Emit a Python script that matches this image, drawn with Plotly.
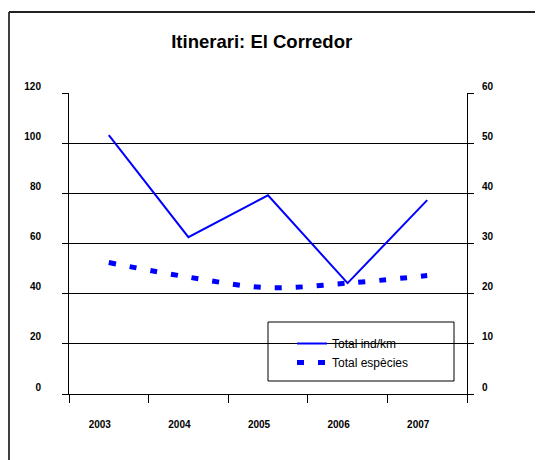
import plotly.graph_objects as go

years = ["2003", "2004", "2005", "2006", "2007"]
ind_km = [103.2, 62.5, 79.2, 44.2, 77.3]
especies = [26.2, 23.3, 21.2, 22.1, 23.6]
left_ticks = [0, 20, 40, 60, 80, 100, 120]
right_ticks = [0, 10, 20, 30, 40, 50, 60]

# The page body has an 8px default margin; work in window pixels and shift.
OFF = 8
WIN_W, WIN_H = 543, 460
W, H = WIN_W - OFF, WIN_H - OFF
# plot area in window pixels
PX0, PX1, PY0, PY1 = 69, 467, 93, 394
L, R, T, B = PX0 - OFF, W - (PX1 - OFF), PY0 - OFF, H - (PY1 - OFF)
pw, ph = PX1 - PX0, PY1 - PY0


def px(x):
    return (x - PX0) / pw


def py(y):
    return (PY1 - y) / ph


FONT = "Liberation Sans, Arial, sans-serif"

fig = go.Figure()
fig.add_trace(go.Scatter(x=years, y=ind_km, name="Total ind/km", mode="lines",
                         line=dict(color="#0000FF", width=2)))
fig.add_trace(go.Scatter(x=years, y=especies, name="Total espècies", mode="lines",
                         yaxis="y2",
                         line=dict(color="#0000FF", width=5, dash="7px,14px",
                                   shape="spline", smoothing=1.0)))

tickfont = dict(family=FONT, size=10, color="black", weight="bold")

fig.update_layout(
    width=W, height=H,
    margin=dict(l=L, r=R, t=T, b=B, autoexpand=False),
    paper_bgcolor="white", plot_bgcolor="white",
    title=dict(text="<b>Itinerari: El Corredor</b>", x=(261.7 - OFF) / W, xanchor="center",
               y=1 - (41.5 - OFF) / H, yanchor="middle",
               font=dict(family=FONT, size=18.5, color="black")),
    xaxis=dict(type="category", range=[-0.5, 4.5], showgrid=False,
               showline=True, linecolor="black", linewidth=1,
               ticks="outside", ticklen=8, tickcolor="black", tickson="boundaries",
               tickfont=tickfont, ticklabelstandoff=21, ticklabelshift=-9,
               zeroline=False, fixedrange=True),
    yaxis=dict(range=[0, 120], tickvals=left_ticks, showgrid=True, gridcolor="black",
               gridwidth=1, showline=True, linecolor="black", linewidth=1,
               ticks="outside", ticklen=6, tickcolor="black",
               tickfont=tickfont, ticklabelstandoff=19, ticklabelshift=-7,
               zeroline=False, fixedrange=True),
    yaxis2=dict(range=[0, 60], tickvals=right_ticks, overlaying="y", side="right",
                showgrid=False, showline=True, linecolor="black", linewidth=1,
                ticks="outside", ticklen=6, tickcolor="black",
                tickfont=tickfont, ticklabelstandoff=6, ticklabelshift=-7,
                zeroline=False, fixedrange=True),
    legend=dict(x=px(292), y=py(329), xanchor="left", yanchor="top",
                bgcolor="rgba(0,0,0,0)", borderwidth=0,
                font=dict(family=FONT, size=12, color="black"),
                tracegroupgap=0),
    showlegend=True,
    shapes=[
        dict(type="rect", xref="paper", yref="paper",
             x0=px(268), x1=px(454), y0=py(322), y1=py(381),
             line=dict(color="black", width=1), fillcolor="white", layer="below"),
        dict(type="line", xref="paper", yref="paper",
             x0=px(9), x1=px(9), y0=py(12), y1=py(480),
             line=dict(color="black", width=1.5)),
        dict(type="line", xref="paper", yref="paper",
             x0=px(9), x1=px(560), y0=py(12), y1=py(12),
             line=dict(color="#222222", width=2)),
    ],
)

fig.write_html("out.html")
